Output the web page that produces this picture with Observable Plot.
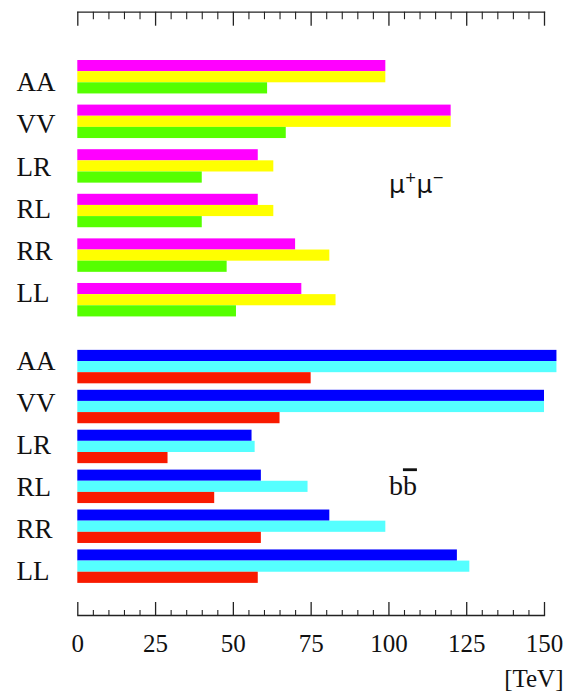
<!DOCTYPE html>
<html><head><meta charset="utf-8">
<script src="https://cdn.jsdelivr.net/npm/d3@7"></script>
<script src="https://cdn.jsdelivr.net/npm/@observablehq/plot@0.6"></script>
<style>body{margin:0;background:#fff}</style>
</head><body><div id="chart"></div>
<script>
// ---- data ----
const categories = ["AA", "VV", "LR", "RL", "RR", "LL"];
const muMagenta = [99, 120, 58, 58, 70, 72];
const muYellow  = [99, 120, 63, 63, 81, 83];
const muGreen   = [61, 67, 40, 40, 48, 51];
const bbBlue    = [154, 150, 56, 59, 81, 122];
const bbCyan    = [154, 150, 57, 74, 99, 126];
const bbRed     = [75, 65, 29, 44, 59, 58];
const majorTicks = [0, 25, 50, 75, 100, 125, 150];
const minorTicks = d3.range(0, 151, 5).filter(v => v % 25 !== 0);
const groupNames = ["μ+μ−", "bb"];

// ---- layout ----
const W = 574, H = 694, mL = 77.3, mR = 30, mT = 11.7, mB = 79;
const frameH = H - mT - mB;
const groupStart = [0, 26], groupPitch = [4, 3.58];
const labelStart = [2.754, 27.74], labelPitch = [3.785, 3.767];
const serif = "Liberation Serif, Times New Roman, serif";
const ink = "#222";

const seriesDefs = [
  {group: 0, slot: 0, values: muMagenta, color: "#ff00ff"},
  {group: 0, slot: 1, values: muYellow,  color: "#ffff00"},
  {group: 0, slot: 2, values: muGreen,   color: "#55ff00"},
  {group: 1, slot: 0, values: bbBlue,    color: "#0000ff"},
  {group: 1, slot: 1, values: bbCyan,    color: "#55ffff"},
  {group: 1, slot: 2, values: bbRed,     color: "#f81a00"}
];
const bars = [];
seriesDefs.forEach(sd => categories.forEach((c, i) => {
  const y1 = groupStart[sd.group] + i * groupPitch[sd.group] + sd.slot;
  bars.push({cat: c, value: sd.values[i], top: y1, bottom: y1 + 1, color: sd.color});
}));
const labels = [];
[0, 1].forEach(g => categories.forEach((c, i) => labels.push({cat: c, y: labelStart[g] + i * labelPitch[g]})));
const annots = [{text: groupNames[0], x: 100, y: 11.84}, {text: groupNames[1], x: 100, y: 39.0}];

const plot = Plot.plot({
  width: W, height: H,
  marginLeft: mL, marginRight: mR, marginTop: mT, marginBottom: mB,
  x: {domain: [0, 150], axis: null},
  y: {type: "linear", domain: [0, 47], range: [60, 584], axis: null},
  color: {type: "identity"},
  style: {background: "#fff"},
  marks: [
    Plot.rect(bars, {x1: () => 0, x2: "value", y1: "top", y2: "bottom", fill: "color"}),
    Plot.frame({anchor: "top", stroke: ink, strokeWidth: 1.3}),
    Plot.frame({anchor: "bottom", stroke: ink, strokeWidth: 1.3}),
    Plot.ruleX(majorTicks, {x: d => d, insetBottom: frameH - 14, stroke: ink, strokeWidth: 1.3}),
    Plot.ruleX(minorTicks, {x: d => d, insetBottom: frameH - 7.5, stroke: ink, strokeWidth: 1.1}),
    Plot.ruleX(majorTicks, {x: d => d, insetTop: frameH - 13, stroke: ink, strokeWidth: 1.3}),
    Plot.ruleX(minorTicks, {x: d => d, insetTop: frameH - 5, stroke: ink, strokeWidth: 1.1}),
    Plot.text(majorTicks, {x: d => d, text: d => String(d), frameAnchor: "bottom", dy: 36.7, lineAnchor: "bottom", fontSize: 25, fontFamily: serif, fill: "#111"}),
    Plot.text(["[TeV]"], {text: d => d, frameAnchor: "bottom-right", dx: 19, dy: 71.7, textAnchor: "end", lineAnchor: "bottom", fontSize: 25, fontFamily: serif, fill: "#111"}),
    Plot.text(labels, {y: "y", text: "cat", frameAnchor: "left", dx: -61.3, textAnchor: "start", lineAnchor: "bottom", fontSize: 27, fontFamily: serif, fill: "#111"}),
    Plot.text(annots, {x: "x", y: "y", text: "text", textAnchor: "start", lineAnchor: "bottom", fontSize: 25, fill: "#111"})
  ]
});
document.getElementById("chart").appendChild(plot);

// rich text for the two process labels
d3.select(plot).selectAll("text").each(function() {
  const t = d3.select(this);
  const s = this.textContent;
  if (s === groupNames[0]) {
    t.text("").attr("font-family", "DejaVu Sans, sans-serif").attr("font-size", 25);
    t.append("tspan").text("μ");
    t.append("tspan").attr("font-size", 14).attr("dy", -11).text("+");
    t.append("tspan").attr("font-size", 25).attr("dy", 11).text("μ");
    t.append("tspan").attr("font-size", 14).attr("dy", -11).text("−");
  } else if (s === groupNames[1]) {
    t.text("").attr("font-family", serif).attr("font-size", 28);
    t.append("tspan").text("b");
    t.append("tspan").style("text-decoration", "overline").style("text-decoration-thickness", "1.5px").attr("fill", "#111").text("b");
  }
});
</script>
</body></html>
